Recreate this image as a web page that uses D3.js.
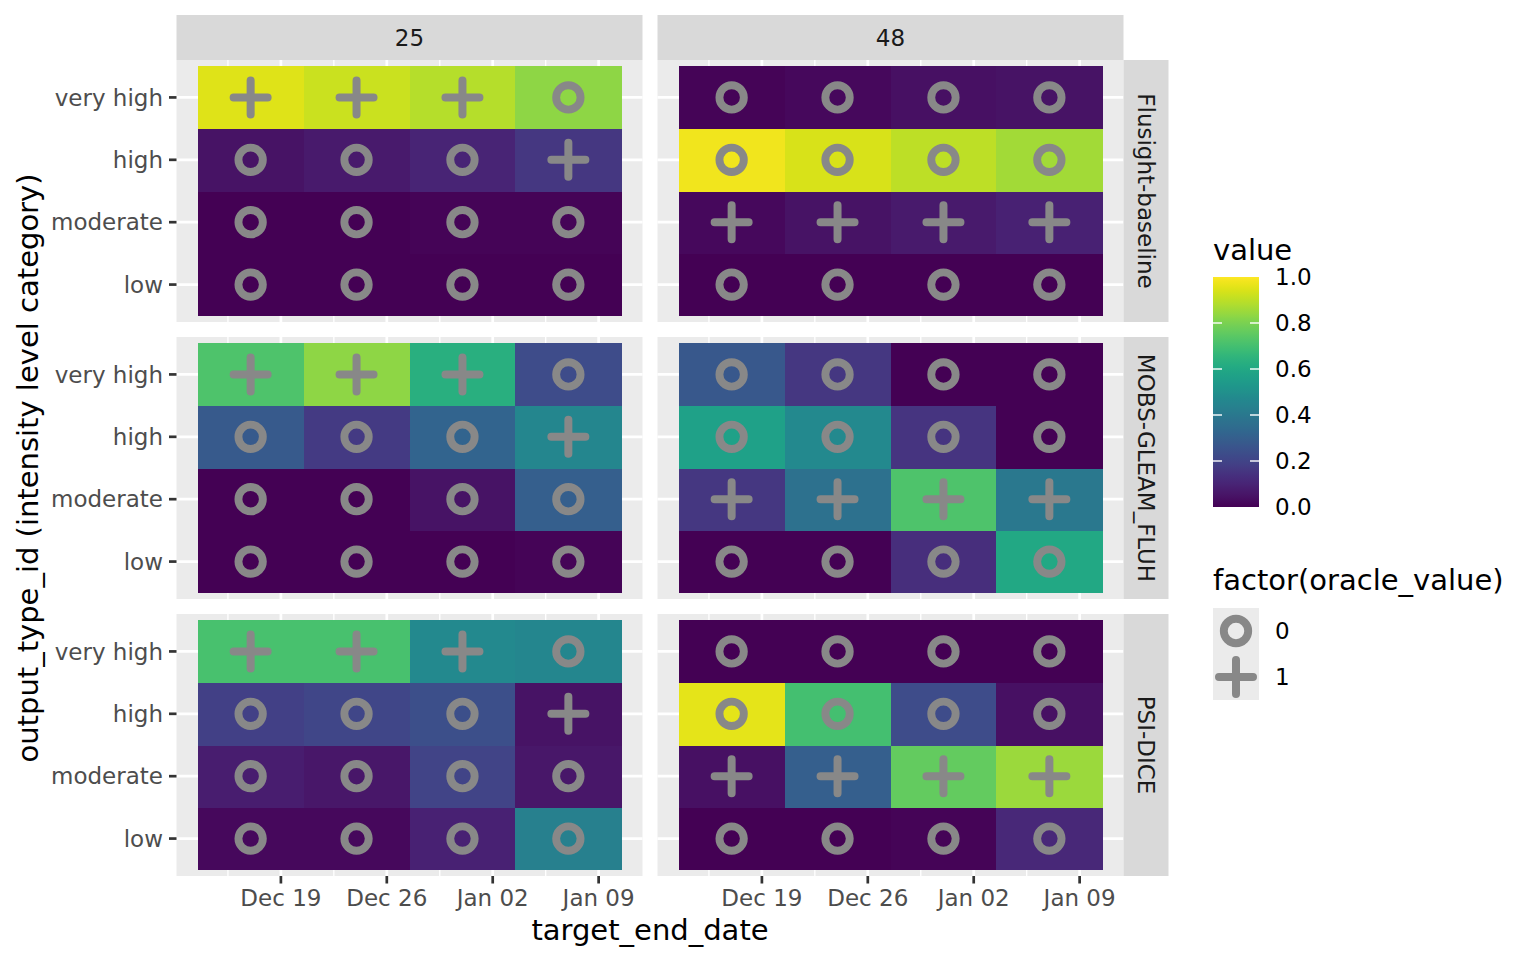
<!DOCTYPE html>
<html>
<head>
<meta charset="utf-8">
<script src="https://cdn.jsdelivr.net/npm/d3@7"></script>
<style>
  html, body { margin: 0; padding: 0; background: #ffffff; }
  svg { display: block; font-family: "DejaVu Sans", sans-serif; }
</style>
</head>
<body>
<svg id="chart" width="1536" height="960"></svg>
<script>
// ---------------- data ----------------
const horizons = ["25", "48"];
const models = ["Flusight-baseline", "MOBS-GLEAM_FLUH", "PSI-DICE"];
const categories = ["low", "moderate", "high", "very high"];
const tileDates = ["2022-12-17", "2022-12-24", "2022-12-31", "2023-01-07"];
const tickDates = ["2022-12-19", "2022-12-26", "2023-01-02", "2023-01-09"];
const tickLabels = ["Dec 19", "Dec 26", "Jan 02", "Jan 09"];
const minorDates = ["2022-12-15T12:00", "2022-12-22T12:00", "2022-12-29T12:00", "2023-01-05T12:00"];
const colorTicks = [0, 0.2, 0.4, 0.6, 0.8, 1.0];

// rows: low, moderate, high, very high ; columns: tileDates
const flusight25 = [
  [0.00, 0.00, 0.00, 0.00],
  [0.00, 0.00, 0.01, 0.01],
  [0.05, 0.07, 0.10, 0.16],
  [0.95, 0.92, 0.89, 0.83]
];
const flusight48 = [
  [0.00, 0.00, 0.00, 0.00],
  [0.02, 0.05, 0.07, 0.09],
  [0.98, 0.94, 0.90, 0.86],
  [0.01, 0.02, 0.04, 0.05]
];
const mobs25 = [
  [0.00, 0.00, 0.00, 0.01],
  [0.00, 0.00, 0.05, 0.30],
  [0.28, 0.17, 0.32, 0.46],
  [0.72, 0.83, 0.63, 0.23]
];
const mobs48 = [
  [0.00, 0.00, 0.13, 0.60],
  [0.16, 0.37, 0.72, 0.40],
  [0.57, 0.47, 0.15, 0.00],
  [0.27, 0.16, 0.00, 0.00]
];
const psi25 = [
  [0.02, 0.02, 0.09, 0.43],
  [0.08, 0.06, 0.20, 0.06],
  [0.19, 0.21, 0.24, 0.05],
  [0.71, 0.71, 0.47, 0.46]
];
const psi48 = [
  [0.00, 0.00, 0.01, 0.11],
  [0.04, 0.30, 0.76, 0.85],
  [0.96, 0.70, 0.23, 0.04],
  [0.00, 0.00, 0.00, 0.00]
];
const oracle25 = [
  [0, 0, 0, 0],
  [0, 0, 0, 0],
  [0, 0, 0, 1],
  [1, 1, 1, 0]
];
const oracle48 = [
  [0, 0, 0, 0],
  [1, 1, 1, 1],
  [0, 0, 0, 0],
  [0, 0, 0, 0]
];
const panelValues = [[flusight25, flusight48], [mobs25, mobs48], [psi25, psi48]];
const panelOracle = [oracle25, oracle48];

// ---------------- layout ----------------
const svg = d3.select("#chart");
const colX = [[176.5, 642.5], [657.5, 1123.5]];
const rowY = [[60, 322], [337, 599], [614, 876]];
const stripTop = 15, stripRightW = 45;
const grey = "#888888";

const parse = d3.utcParse("%Y-%m-%d");
const parseT = d3.utcParse("%Y-%m-%dT%H:%M");
const DAY = 86400000;
const dates = tileDates.map(parse);
const dMin = +dates[0] - 3.5 * DAY, dMax = +dates[dates.length - 1] + 3.5 * DAY;
const pad = (dMax - dMin) * 0.05;

const color = d3.scaleSequential(d3.interpolateViridis).domain([0, 1]);

function drawCircle(g, cx, cy) {
  g.append("circle").attr("cx", cx).attr("cy", cy).attr("r", 12.2)
    .attr("fill", "none").attr("stroke", grey).attr("stroke-width", 7.9);
}
function drawPlus(g, cx, cy) {
  const h = 17;
  g.append("path").attr("d", `M${cx - h},${cy}H${cx + h}M${cx},${cy - h}V${cy + h}`)
    .attr("fill", "none").attr("stroke", grey).attr("stroke-width", 8)
    .attr("stroke-linecap", "round");
}

horizons.forEach((hz, c) => {
  const x = d3.scaleUtc().domain([new Date(dMin - pad), new Date(dMax + pad)]).range(colX[c]);
  // top strip
  svg.append("rect").attr("x", colX[c][0]).attr("y", stripTop)
    .attr("width", colX[c][1] - colX[c][0]).attr("height", rowY[0][0] - stripTop)
    .attr("fill", "#D9D9D9");
  svg.append("text").attr("x", (colX[c][0] + colX[c][1]) / 2).attr("y", 46)
    .attr("text-anchor", "middle").attr("font-size", 23).attr("fill", "#1A1A1A").text(hz);

  models.forEach((m, r) => {
    const y = d3.scaleBand().domain(categories.slice().reverse()).range(rowY[r])
      .paddingInner(0).paddingOuter(0.1);
    const g = svg.append("g");
    g.append("rect").attr("x", colX[c][0]).attr("y", rowY[r][0])
      .attr("width", colX[c][1] - colX[c][0]).attr("height", rowY[r][1] - rowY[r][0])
      .attr("fill", "#EBEBEB");
    minorDates.forEach(d => {
      const xx = x(parseT(d));
      g.append("line").attr("x1", xx).attr("x2", xx).attr("y1", rowY[r][0]).attr("y2", rowY[r][1])
        .attr("stroke", "#ffffff").attr("stroke-width", 1.35);
    });
    tickDates.forEach(d => {
      const xx = x(parse(d));
      g.append("line").attr("x1", xx).attr("x2", xx).attr("y1", rowY[r][0]).attr("y2", rowY[r][1])
        .attr("stroke", "#ffffff").attr("stroke-width", 2.7);
    });
    categories.forEach(cat => {
      const yy = y(cat) + y.bandwidth() / 2;
      g.append("line").attr("x1", colX[c][0]).attr("x2", colX[c][1]).attr("y1", yy).attr("y2", yy)
        .attr("stroke", "#ffffff").attr("stroke-width", 2.7);
    });
    const vals = panelValues[r][c];
    const orc = panelOracle[c];
    const tg = g.append("g").attr("shape-rendering", "crispEdges");
    categories.forEach((cat, ci) => {
      dates.forEach((d, di) => {
        const x0 = x(new Date(+d - 3.5 * DAY)), x1 = x(new Date(+d + 3.5 * DAY));
        tg.append("rect").attr("x", x0).attr("y", y(cat))
          .attr("width", x1 - x0 + 0.5).attr("height", y.bandwidth() + 0.5)
          .attr("fill", color(vals[ci][di]));
      });
    });
    categories.forEach((cat, ci) => {
      dates.forEach((d, di) => {
        const cx = x(d), cy = y(cat) + y.bandwidth() / 2;
        if (orc[ci][di] === 1) drawPlus(g, cx, cy); else drawCircle(g, cx, cy);
      });
    });
    if (c === 0) {
      categories.forEach(cat => {
        const yy = y(cat) + y.bandwidth() / 2;
        svg.append("line").attr("x1", colX[0][0] - 7.5).attr("x2", colX[0][0]).attr("y1", yy).attr("y2", yy)
          .attr("stroke", "#333333").attr("stroke-width", 2.7);
        svg.append("text").attr("x", colX[0][0] - 13.5).attr("y", yy + 8.3)
          .attr("text-anchor", "end").attr("font-size", 23).attr("fill", "#4D4D4D").text(cat);
      });
    }
    if (c === horizons.length - 1) {
      svg.append("rect").attr("x", colX[c][1]).attr("y", rowY[r][0])
        .attr("width", stripRightW).attr("height", rowY[r][1] - rowY[r][0]).attr("fill", "#D9D9D9");
      const sx = colX[c][1] + stripRightW / 2, sy = (rowY[r][0] + rowY[r][1]) / 2;
      svg.append("text").attr("transform", `translate(${sx},${sy}) rotate(90)`)
        .attr("text-anchor", "middle").attr("dy", "0.36em")
        .attr("font-size", 23).attr("fill", "#1A1A1A").text(m);
    }
    if (r === models.length - 1) {
      tickDates.forEach((d, i) => {
        const xx = x(parse(d));
        svg.append("line").attr("x1", xx).attr("x2", xx).attr("y1", rowY[r][1]).attr("y2", rowY[r][1] + 7.5)
          .attr("stroke", "#333333").attr("stroke-width", 2.7);
        svg.append("text").attr("x", xx).attr("y", 906)
          .attr("text-anchor", "middle").attr("font-size", 23).attr("fill", "#4D4D4D").text(tickLabels[i]);
      });
    }
  });
});

// axis titles
svg.append("text").attr("x", (colX[0][0] + colX[1][1]) / 2).attr("y", 940)
  .attr("text-anchor", "middle").attr("font-size", 29).attr("fill", "#000").text("target_end_date");
svg.append("text").attr("transform", `translate(38,${(rowY[0][0] + rowY[2][1]) / 2}) rotate(-90)`)
  .attr("text-anchor", "middle").attr("font-size", 29).attr("fill", "#000")
  .text("output_type_id (intensity level category)");

// ---------------- legends ----------------
const lx = 1213, lw = 46, barTop = 277, barBot = 507;
svg.append("text").attr("x", lx).attr("y", 260).attr("font-size", 29).attr("fill", "#000").text("value");
const defs = svg.append("defs");
const grad = defs.append("linearGradient").attr("id", "vgrad")
  .attr("x1", 0).attr("y1", 1).attr("x2", 0).attr("y2", 0);
d3.range(0, 1.0001, 0.02).forEach(t => {
  grad.append("stop").attr("offset", t).attr("stop-color", color(t));
});
svg.append("rect").attr("x", lx).attr("y", barTop).attr("width", lw).attr("height", barBot - barTop)
  .attr("fill", "url(#vgrad)");
const cyScale = d3.scaleLinear().domain([0, 1]).range([barBot, barTop]);
colorTicks.forEach(t => {
  const yy = cyScale(t);
  if (t > 0 && t < 1) {
    svg.append("line").attr("x1", lx).attr("x2", lx + 9).attr("y1", yy).attr("y2", yy)
      .attr("stroke", "#fff").attr("stroke-width", 1.4);
    svg.append("line").attr("x1", lx + lw - 9).attr("x2", lx + lw).attr("y1", yy).attr("y2", yy)
      .attr("stroke", "#fff").attr("stroke-width", 1.4);
  }
  svg.append("text").attr("x", 1275).attr("y", yy + 8.3).attr("font-size", 23).attr("fill", "#000")
    .text(d3.format(".1f")(t));
});

svg.append("text").attr("x", lx).attr("y", 590).attr("font-size", 29).attr("fill", "#000")
  .text("factor(oracle_value)");
const shapeLevels = ["0", "1"];
shapeLevels.forEach((lv, i) => {
  const ky = 608 + i * 46;
  svg.append("rect").attr("x", lx).attr("y", ky).attr("width", lw).attr("height", 46).attr("fill", "#EBEBEB");
  const g = svg.append("g");
  if (lv === "1") drawPlus(g, lx + lw / 2, ky + 23); else drawCircle(g, lx + lw / 2, ky + 23);
  svg.append("text").attr("x", 1275).attr("y", ky + 23 + 8.3).attr("font-size", 23).attr("fill", "#000").text(lv);
});
</script>
</body>
</html>
